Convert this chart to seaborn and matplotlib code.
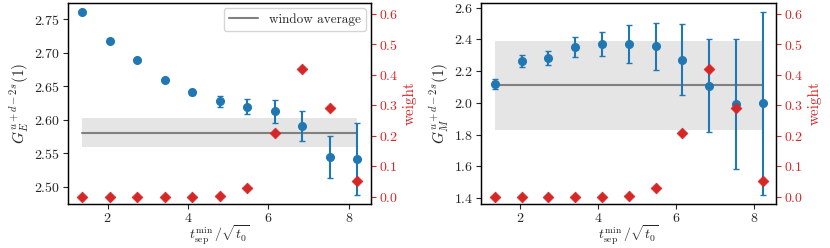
import numpy as np
import pandas as pd
import seaborn as sns
import matplotlib
matplotlib.use("Agg")
import matplotlib.pyplot as plt

# ----------------------------------------
# data
# ----------------------------------------
t_min = [1.36, 2.05, 2.73, 3.42, 4.10, 4.79, 5.47, 6.16, 6.84, 7.53, 8.21]
weights = [0.0, 0.0, 0.0, 0.0, 0.0, 0.003, 0.028, 0.208, 0.418, 0.290, 0.053]

GE_val = [2.7605, 2.717, 2.690, 2.659, 2.641, 2.6275, 2.6195, 2.613, 2.591, 2.545, 2.542]
GE_err = [0.0007, 0.0008, 0.001, 0.002, 0.004, 0.0077, 0.011, 0.017, 0.022, 0.031, 0.054]
GE_avg, GE_avg_err = 2.5807, 0.0217

GM_val = [2.121, 2.266, 2.285, 2.350, 2.371, 2.371, 2.358, 2.273, 2.109, 1.993, 1.997]
GM_err = [0.030, 0.038, 0.045, 0.063, 0.076, 0.121, 0.149, 0.226, 0.292, 0.411, 0.577]
GM_avg, GM_avg_err = 2.111, 0.282

panels = [
    (GE_val, GE_err, GE_avg, GE_avg_err, r"$G_E^{u+d-2s}(1)$", True),
    (GM_val, GM_err, GM_avg, GM_avg_err, r"$G_M^{u+d-2s}(1)$", False),
]

sns.set_theme(style="ticks")
plt.rcParams["font.family"] = "serif"
plt.rcParams["font.serif"] = ["cmr10", "DejaVu Serif"]
plt.rcParams["mathtext.fontset"] = "cm"
plt.rcParams["axes.unicode_minus"] = False
plt.rcParams["axes.formatter.use_mathtext"] = True
plt.rcParams["font.size"] = 10
plt.rcParams["xtick.major.size"] = 3.5
plt.rcParams["ytick.major.size"] = 3.5
plt.rcParams["xtick.major.width"] = 0.8
plt.rcParams["ytick.major.width"] = 0.8
plt.rcParams["axes.linewidth"] = 0.9
plt.rcParams["axes.edgecolor"] = "black"

BLUE = "#1f77b4"
RED = "#d62728"

fig = plt.figure(figsize=(8.3, 2.48), dpi=100)
boxes = [[0.082, 0.177, 0.365, 0.812], [0.580, 0.177, 0.355, 0.812]]

for box, (vals, errs, avg, avg_err, ylab, show_legend) in zip(boxes, panels):
    ax = fig.add_axes(box)
    df = pd.DataFrame({"t": t_min, "val": vals, "err": errs, "w": weights})

    # window average band + line
    ax.fill_between([t_min[0], t_min[-1]], avg - avg_err, avg + avg_err,
                    color="gray", alpha=0.2, linewidth=0)
    sns.lineplot(x=[t_min[0], t_min[-1]], y=[avg, avg], color="gray",
                 ax=ax, label="window average", linewidth=1.5)

    ax.errorbar(df["t"], df["val"], yerr=df["err"], fmt="o", color=BLUE,
                markersize=5.5, capsize=2.5, elinewidth=1.5, capthick=1.0)

    ax.set_xlabel(r"$t_{\rm sep}^{\rm min}\,/\sqrt{t_0}$", fontsize=10,
                  va="top")
    ax.xaxis.set_label_coords(0.5, -0.095)
    ax.set_ylabel(ylab, fontsize=11, labelpad=2)
    ax.tick_params(labelsize=10, pad=2.5)
    ax.set_xticks([2, 4, 6, 8])

    if show_legend:
        ax.legend(loc="upper right", fontsize=9.5, framealpha=0.8,
                  edgecolor="#cccccc", fancybox=True, handlelength=2.2,
                  borderaxespad=0.4)
    else:
        ax.get_legend().remove()

    ax2 = ax.twinx()
    sns.scatterplot(data=df, x="t", y="w", marker="D", color=RED, s=30,
                    edgecolor=RED, linewidth=0.5, ax=ax2, zorder=3)
    ax2.set_ylim(-0.024, 0.637)
    ax2.set_yticks([0.0, 0.1, 0.2, 0.3, 0.4, 0.5, 0.6])
    ax2.set_ylabel("weight", color=RED, fontsize=11, labelpad=3)
    ax2.tick_params(axis="y", colors=RED, labelsize=10, pad=2.5)
    ax2.set_xlabel("")

fig.savefig("out.png", dpi=100)
